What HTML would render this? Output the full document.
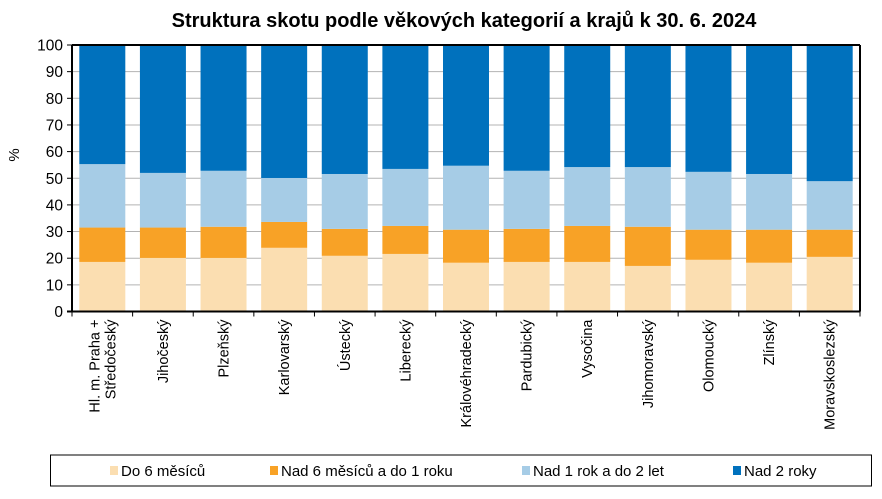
<!DOCTYPE html>
<html><head><meta charset="utf-8"><style>
body{margin:0;background:#fff;font-family:"Liberation Sans",sans-serif}
</style></head><body>
<svg width="882" height="494" xmlns="http://www.w3.org/2000/svg" font-family="Liberation Sans, sans-serif">
<rect width="882" height="494" fill="#fff"/>
<text x="464" y="27" text-anchor="middle" font-size="20" font-weight="bold">Struktura skotu podle věkových kategorií a krajů k 30. 6. 2024</text>
<text transform="translate(19,155) rotate(-90)" text-anchor="middle" font-size="15">%</text>
<g id="grid"></g><g id="bars"></g><g id="axes"></g>
<g>
<rect x="50.5" y="455" width="821" height="31" fill="#fff" stroke="#000"/>
<g id="legend"></g>
</g>
</svg>
<script>
const categories=["Hl. m. Praha +|Středočeský","Jihočeský","Plzeňský","Karlovarský","Ústecký","Liberecký","Královéhradecký","Pardubický","Vysočina","Jihomoravský","Olomoucký","Zlínský","Moravskoslezský"];
const do6=[18.6,20.1,20.1,23.9,20.9,21.6,18.3,18.6,18.6,17.1,19.4,18.3,20.5];
const nad6=[12.9,11.4,11.7,9.7,10.1,10.5,12.4,12.4,13.5,14.7,11.3,12.4,10.2];
const nad1=[23.8,20.5,21.0,16.5,20.6,21.4,24.0,21.8,22.1,22.4,21.7,20.9,18.2];
const nad2=[44.7,48.0,47.2,49.9,48.4,46.5,45.3,47.2,45.8,45.8,47.6,48.4,51.1];
const seriesNames=["Do 6 měsíců","Nad 6 měsíců a do 1 roku","Nad 1 rok a do 2 let","Nad 2 roky"];
const yTicks=[0,10,20,30,40,50,60,70,80,90,100];
const colors=["#fbdeb1","#f8a226","#a6cce6","#0071bd"];
const NS="http://www.w3.org/2000/svg";
const L=72,R=860,T=45,B=311.5;
const y=v=>B-(B-T)*v/100;
const step=(R-L)/categories.length;
const x=i=>L+step*i;
function mk(tag,attrs,parent,text){const e=document.createElementNS(NS,tag);for(const k in attrs)e.setAttribute(k,attrs[k]);if(text!==undefined)e.textContent=text;parent.appendChild(e);return e;}
const grid=document.getElementById('grid'),bars=document.getElementById('bars'),axes=document.getElementById('axes'),leg=document.getElementById('legend');
yTicks.forEach(t=>{
 if(t>0&&t<100){const g=mk('line',{x1:L,x2:R,y1:y(t),y2:y(t),stroke:'#b3b3b3','stroke-width':1},grid);
 
 }
 const tk=mk('line',{x1:L-5,x2:L,y1:y(t),y2:y(t),stroke:'#000','stroke-width':1},axes);
 
 
 const lb=mk('text',{x:L-9,y:y(t)+5.5,'text-anchor':'end','font-size':15.5},axes,String(t));
 
 
});
const series=[do6,nad6,nad1,nad2];
categories.forEach((c,i)=>{
 let acc=0;const bw=46,bx=x(i)+(step-bw)/2;
 series.forEach((s,k)=>{
  const v=s[i];
  const r=mk('rect',{x:bx,y:y(acc+v),width:bw,height:y(acc)-y(acc+v),fill:colors[k]},bars);
  
  
  acc+=v;
 });
 const tk=mk('line',{x1:x(i),x2:x(i),y1:B,y2:B+5,stroke:'#000'},axes);
 
 
 const parts=c.split('|');const cx=x(i)+step/2;
 const t=mk('text',{transform:`translate(${cx},${B+8}) rotate(-90)`,'text-anchor':'end','font-size':14.5},axes);
 
 
 parts.forEach((p,j)=>{const n=parts.length;mk('tspan',{x:0,y:5+(j-(n-1)/2)*16},t,p);});
});
const lastT=mk('line',{x1:R,x2:R,y1:B,y2:B+5,stroke:'#000'},axes);


const topBorder=mk('line',{x1:L,x2:R,y1:T,y2:T,stroke:'#000','stroke-width':2},axes);


const rightBorder=mk('line',{x1:R,x2:R,y1:T,y2:B,stroke:'#000','stroke-width':2},axes);


const ya=mk('line',{x1:L,x2:L,y1:T,y2:B,stroke:'#000','stroke-width':2},axes);


const xa=mk('line',{x1:L-5,x2:R,y1:B,y2:B,stroke:'#000','stroke-width':2},axes);


const lx=[110,270,522,733];
seriesNames.forEach((n,k)=>{
 const g=mk('g',{},leg);
 
 
 mk('rect',{x:lx[k],y:466,width:8,height:9,fill:colors[k]},g);
 mk('text',{x:lx[k]+11,y:476,'font-size':15},g,n);
});
</script>
</body></html>
